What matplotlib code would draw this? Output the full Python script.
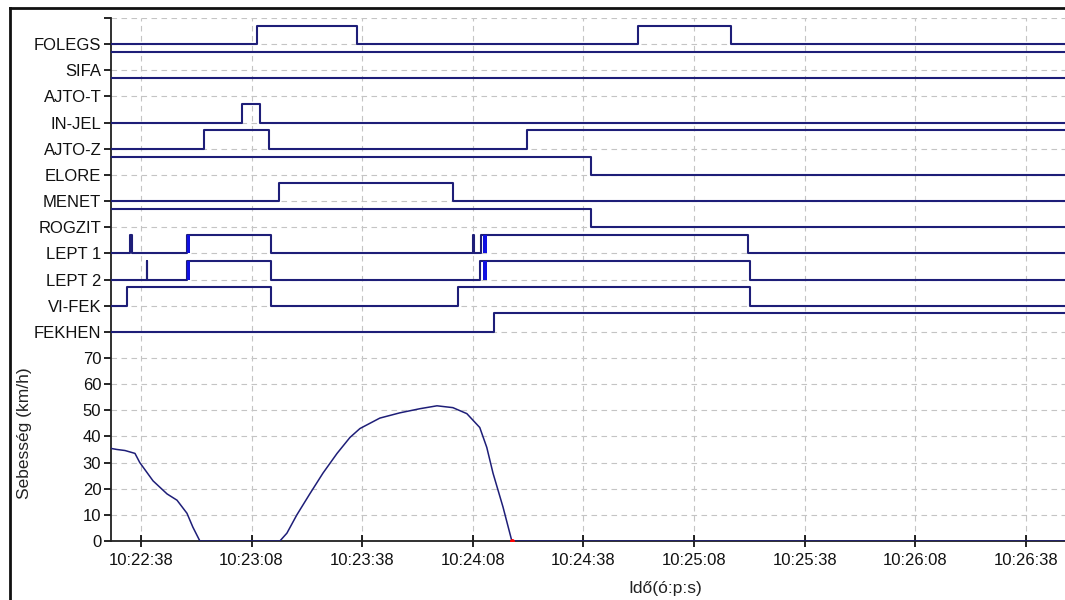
import matplotlib
matplotlib.use("Agg")
import matplotlib.pyplot as plt
from matplotlib.lines import Line2D
from matplotlib.ticker import FixedLocator, FuncFormatter

# time axis: seconds after 10:22:00
t_start = 29.9
t_end = 288.6

# digital signals: name, initial state, switching times (state flips at each)
signal_names = ["FEKHEN", "VI-FEK", "LEPT 2", "LEPT 1", "ROGZIT", "MENET",
                "ELORE", "AJTO-Z", "IN-JEL", "AJTO-T", "SIFA", "FOLEGS"]
signal_init = {
    "FOLEGS": 0, "SIFA": 1, "AJTO-T": 1, "IN-JEL": 0, "AJTO-Z": 0,
    "ELORE": 1, "MENET": 0, "ROGZIT": 1, "LEPT 1": 0, "LEPT 2": 0,
    "VI-FEK": 0, "FEKHEN": 0,
}
signal_flips = {
    "FOLEGS": [69.5, 96.6, 172.8, 198.0],
    "SIFA": [],
    "AJTO-T": [],
    "IN-JEL": [65.4, 70.3],
    "AJTO-Z": [55.1, 72.7, 142.7],
    "ELORE": [160.0],
    "MENET": [75.4, 122.6],
    "ROGZIT": [160.0],
    "LEPT 1": [35.1, 35.7, 50.6, 73.3, 128.2, 128.4, 130.2, 202.6],
    "LEPT 2": [39.6, 39.75, 50.6, 73.3, 130.0, 203.2],
    "VI-FEK": [34.2, 73.3, 124.0, 203.2],
    "FEKHEN": [133.7],
}
# contact bounce bursts (drawn as solid blue bars)
bursts = {
    "LEPT 1": [(50.6, 51.4), (130.7, 131.8)],
    "LEPT 2": [(50.6, 51.4), (130.8, 131.8)],
}

# speed (km/h)
speed_t = [29.9, 31.5, 33.7, 36.4, 37.7, 41.3, 45.1, 47.8, 50.5, 52.1, 54.0,
           75.7, 77.6, 80.3, 83.8, 87.4, 91.2, 94.7, 97.4, 102.8, 108.2,
           113.7, 118.3, 122.6, 126.4, 129.9, 131.8, 133.5, 136.2, 138.6, 288.6]
speed_v = [35.4, 35.0, 34.6, 33.5, 30.0, 23.0, 18.0, 15.6, 10.6, 5.3, 0.0,
           0.0, 3.0, 10.0, 18.0, 26.0, 33.5, 39.6, 43.0, 47.0, 49.0,
           50.6, 51.7, 51.0, 48.7, 43.4, 35.8, 25.9, 13.0, 0.0, 0.0]

x_ticks = [38, 68, 98, 128, 158, 188, 218, 248, 278]
speed_ticks = [0, 10, 20, 30, 40, 50, 60, 70]

navy = "#1e1e78"
high_offset = 7
font = "Liberation Sans"

fig = plt.figure(figsize=(10.65, 6.0), dpi=100)
fig.patch.set_facecolor("white")
ax = fig.add_axes([111 / 1065, 59 / 600, 1 - 111 / 1065, 523 / 600])

for k, name in enumerate(signal_names):
    base = 80 + 10 * k
    state = signal_init[name]
    xs = [t_start]
    ys = [base + high_offset * state]
    for t in signal_flips[name]:
        state = 1 - state
        xs.append(t)
        ys.append(base + high_offset * state)
    xs.append(t_end)
    ys.append(ys[-1])
    ax.step(xs, ys, where="post", color=navy, lw=1.5, zorder=3)
    for a, b in bursts.get(name, []):
        ax.fill_between([a, b], base, base + high_offset, color="#1010e0",
                        lw=0, zorder=4)

ax.plot(speed_t, speed_v, color=navy, lw=1.1, zorder=3)
ax.plot(speed_t[-2], speed_v[-2], "o", color="red", ms=2.5, zorder=5)

ax.set_xlim(t_start, t_end)
ax.set_ylim(0, 200)

y_ticks = speed_ticks + [80 + 10 * k for k in range(len(signal_names))] + [200]
y_labels = [str(v) for v in speed_ticks] + signal_names + [""]
ax.yaxis.set_major_locator(FixedLocator(y_ticks))
ax.set_yticklabels(y_labels)
ax.xaxis.set_major_locator(FixedLocator(x_ticks))


def fmt_time(s, pos):
    s = int(round(s))
    return "10:%02d:%02d" % (22 + s // 60, s % 60)


ax.xaxis.set_major_formatter(FuncFormatter(fmt_time))

ax.grid(True, color="#c4c4c4", ls=(0, (5, 4)), lw=0.8)
ax.set_axisbelow(True)
for side in ["top", "right"]:
    ax.spines[side].set_visible(False)
ax.spines["left"].set_color("#202020")
ax.spines["bottom"].set_color("#202020")
ax.spines["left"].set_linewidth(1.3)
ax.spines["bottom"].set_linewidth(1.3)
ax.tick_params(axis="y", direction="out", length=5, width=1.2, pad=2,
               labelsize=12, labelcolor="#111111")
ax.tick_params(axis="x", direction="inout", length=9, width=1.2, pad=4,
               labelsize=12, labelcolor="#111111")
for lab in ax.get_xticklabels() + ax.get_yticklabels():
    lab.set_family(font)

fig.text(25 / 1065, 1 - 433 / 600, "Sebesség (km/h)", rotation=90,
         ha="center", va="center", fontsize=12.5, family=font,
         color="#222222")
fig.text(665 / 1065, 1 - 589 / 600, "Idő(ó:p:s)", ha="center", va="center",
         fontsize=12.5, family=font, color="#222222")

# window frame
fig.add_artist(Line2D([10 / 1065, 10 / 1065], [0, 1 - 8 / 600],
                      transform=fig.transFigure, color="#111111", lw=2))
fig.add_artist(Line2D([10 / 1065, 1], [1 - 8 / 600, 1 - 8 / 600],
                      transform=fig.transFigure, color="#111111", lw=2))

fig.savefig("out.png", dpi=100)
